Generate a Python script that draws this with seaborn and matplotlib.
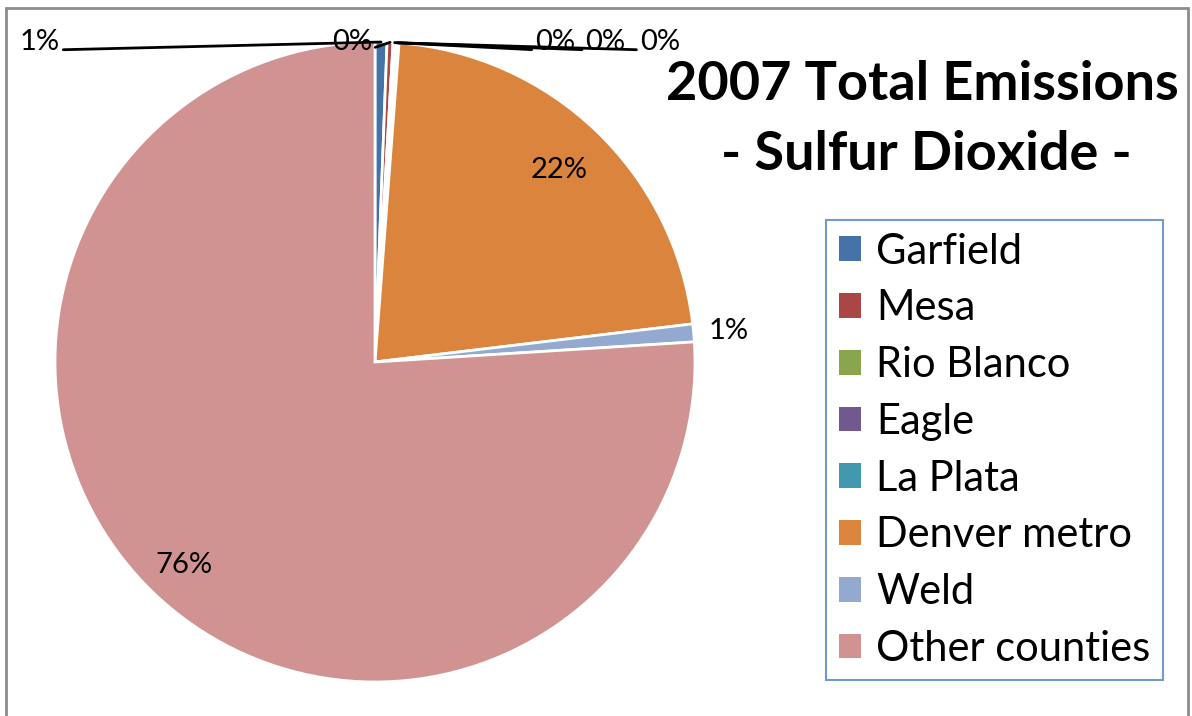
import matplotlib
matplotlib.use("Agg")
import matplotlib.pyplot as plt
from matplotlib.patches import Rectangle
import numpy as np
import seaborn as sns

# 2007 SO2 emissions share by county (percent)
counties = ["Garfield", "Mesa", "Rio Blanco", "Eagle", "La Plata",
            "Denver metro", "Weld", "Other counties"]
shares = [0.6, 0.3, 0.15, 0.08, 0.07, 21.9, 0.9, 76.0]
pct_labels = ["1%", "0%", "0%", "0%", "0%", "22%", "1%", "76%"]
hex_colors = ["#4572A7", "#AA4643", "#89A54E", "#71588F", "#4198AF",
              "#DB843D", "#93A9CF", "#D19392"]

sns.set_style("white")
plt.rcParams['font.family'] = ['Lato', 'DejaVu Sans']
plt.rcParams['text.color'] = 'black'
colors = sns.color_palette(hex_colors)

fig = plt.figure(figsize=(11.92, 7.16), dpi=100)
ax = fig.add_axes([55 / 1192, 34 / 716, 640 / 1192, 640 / 716])

wedges, _ = ax.pie(shares, colors=colors, startangle=90, counterclock=False,
                   radius=1.0, wedgeprops=dict(edgecolor="white", linewidth=2))
ax.set_xlim(-1, 1)
ax.set_ylim(-1, 1)

# labels: inside for big slices, outside with leader lines for small ones
outside_pos = {0: (-1.047, 1.0), 1: (-0.072, 1.0), 2: (0.5625, 1.0),
               3: (0.72, 1.0), 4: (0.89, 1.0)}
for i, w in enumerate(wedges):
    mid = np.deg2rad((w.theta1 + w.theta2) / 2)
    if i in outside_pos:
        tx, ty = outside_pos[i]
        ex, ey = np.cos(mid), np.sin(mid)
        rel = (1.0, 0.2) if tx < ex else (0.0, 0.2)
        if i == 1:
            rel = (0.9, 0.2)
        ax.annotate(pct_labels[i], xy=(ex, ey), xytext=(tx, ty),
                    ha="center", va="center", fontsize=21,
                    arrowprops=dict(arrowstyle="-", color="black", lw=2,
                                    relpos=rel, shrinkA=0, shrinkB=0))
    elif i == 6:
        ax.text(1.08 * np.cos(mid) + 0.03, 1.08 * np.sin(mid), pct_labels[i],
                ha="center", va="center", fontsize=21)
    else:
        r = 0.83 if i == 5 else 0.87
        ax.text(r * np.cos(mid), r * np.sin(mid), pct_labels[i],
                ha="center", va="center", fontsize=21)

fig.text(922 / 1192, 1 - 85 / 716, "2007 Total Emissions", ha="center",
         va="center", fontsize=39, fontweight="bold")
fig.text(926 / 1192, 1 - 155 / 716, "- Sulfur Dioxide -", ha="center",
         va="center", fontsize=39, fontweight="bold")

leg = fig.legend(wedges, counties, loc="upper left",
                 bbox_to_anchor=(826 / 1192, 1 - 220 / 716),
                 fontsize=30, frameon=True, fancybox=False,
                 handlelength=0.53, handleheight=0.53, handletextpad=0.38,
                 labelspacing=0.45, borderpad=0.3, borderaxespad=0)
leg.get_frame().set_edgecolor("#4F81BD")
leg.get_frame().set_linewidth(1.5)
for h in leg.legend_handles:
    h.set_edgecolor("none")

# outer chart border
fig.patches.append(Rectangle((6 / 1192, -0.01), 1182 / 1192, 1 - 8 / 716 + 0.01,
                             transform=fig.transFigure, fill=False,
                             edgecolor="#8C8C8C", linewidth=2))

fig.savefig("out.png", dpi=100)
